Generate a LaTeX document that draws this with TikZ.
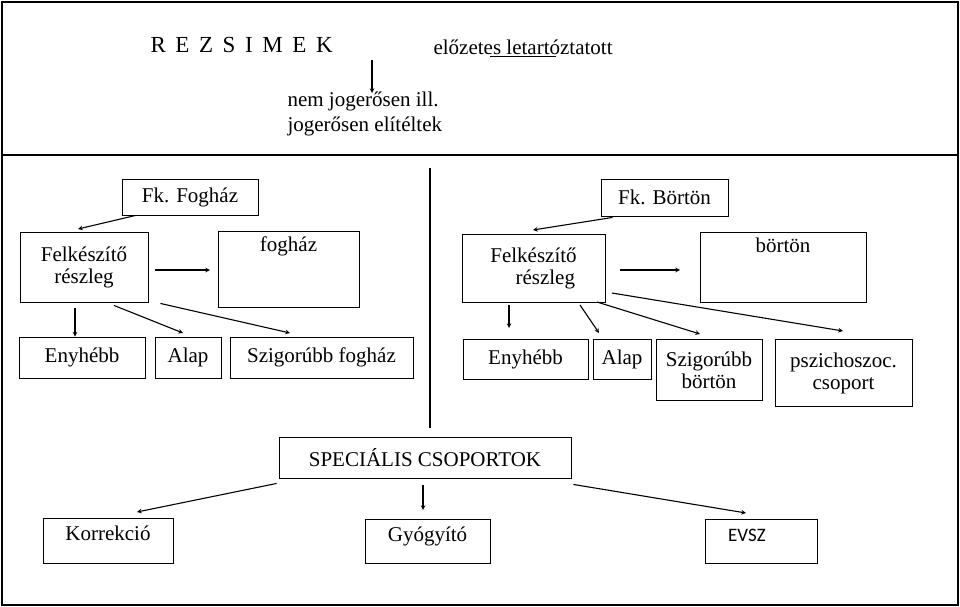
\documentclass[tikz,border=0pt]{standalone}
\usepackage{fontspec}
\setmainfont{Liberation Serif}
\newfontfamily\evszfont{Carlito}
\usetikzlibrary{arrows}

\begin{document}
\begin{tikzpicture}[x=1pt,y=-1pt,->,>=stealth,line width=1.1pt,font=\fontsize{21}{22}\selectfont,
      box/.style={draw,line width=0.9pt,-,inner sep=0pt,align=center},
      toplab/.style={anchor=north,inner sep=0pt,yshift=-6pt}]
      \useasboundingbox (0,0) rectangle (960,607);
      \draw[-,line width=2.2pt] (2,2) rectangle (958,605);
      \draw[-,line width=2.2pt] (2,155) -- (958,155);
      \draw[-,line width=2pt] (430,168) -- (430,428);

      % header
      \node[anchor=west,inner sep=0pt,font=\fontsize{23}{24}\selectfont] (rezs) at (150,45) {R\, E\, Z\, S\, I\, M\, E\, K};
      \node[anchor=west,inner sep=0pt] (elozetes) at (433,47) {előzetes letartóztatott};
      \draw[-,line width=0.8pt] (490,56) -- (556,56);
      \coordinate (ha) at (372,60);
      \node[anchor=north west,align=left,inner sep=0pt] (jog) at (287,91) {nem jogerősen ill.\\[3pt]jogerősen elítéltek};
      \draw (ha) -- (372,93);

      % fogház
      \node[box,minimum width=136,minimum height=36] (fkf) at (190,197) {Fk. Fogház};
      \node[box,minimum width=128,minimum height=70] (felf) at (84,267) {Felkészítő\\részleg};
      \node[box,minimum width=141,minimum height=76,label={[toplab]north:fogház}] (fogh) at (288.5,269) {};
      \node[box,minimum width=126,minimum height=41] (enyf) at (82,357.5) {Enyhébb};
      \node[box,minimum width=66,minimum height=41] (alapf) at (188,357.5) {Alap};
      \node[box,minimum width=183,minimum height=41] (szigf) at (321.5,357.5) {Szigorúbb fogház};

      \path
      (fkf.south west)+(14,0) edge (78,229)
      (felf.east)+(7,3) edge (210,270)
      (felf.south)+(-9,6) edge (enyf.north-|75,0)
      (felf.south)+(30,3) edge (183,333)
      (felf.south east)+(12,1) edge (290,333)
      ;

      % börtön
      \node[box,minimum width=127,minimum height=37] (fkb) at (664.5,197.5) {Fk. Börtön};
      \node[box,minimum width=143,minimum height=68,align=left] (felb) at (533.5,268) {Felkészítő\\\hspace*{1.2em}részleg};
      \node[box,minimum width=166,minimum height=70,label={[toplab]north:börtön}] (bort) at (783,267) {};
      \node[box,minimum width=125,minimum height=40] (enyb) at (525.5,359) {Enyhébb};
      \node[box,minimum width=58,minimum height=40] (alapb) at (622,359) {Alap};
      \node[box,minimum width=106,minimum height=61,anchor=north] (szigb) at (709,339) {Szigorúbb\\börtön};
      \node[box,minimum width=137,minimum height=67,anchor=north] (pszi) at (843.5,339) {pszichoszoc.\\csoport};

      \path
      (fkb.south)+(-52,1) edge (533,230)
      (felb.east)+(15,2) edge (680,270)
      (509,305) edge (509,328)
      (580,305) edge (599,333)
      (597,302) edge (700,334)
      (612,293) edge (843,331)
      ;

      % speciális csoportok
      \node[box,minimum width=292,minimum height=41] (spec) at (425,457.5) {SPECIÁLIS CSOPORTOK};
      \node[box,minimum width=130,minimum height=45,label={[toplab,yshift=-2pt]north:Korrekció}] (korr) at (108,540.5) {};
      \node[box,minimum width=125,minimum height=44,label={[toplab,yshift=-2pt]north:Gyógyító}] (gyogy) at (427.5,541) {};
      \node[box,minimum width=112,minimum height=44,label={[toplab,yshift=-4pt,xshift=-14pt,font=\evszfont\fontsize{19}{20}\selectfont]north:EVSZ}] (evsz) at (761,541) {};

      \path
      (spec.south west)+(-2,5) edge (137,512)
      (423,485) edge (423,510)
      (spec.south east)+(2,6) edge (746,513)
      ;
\end{tikzpicture}
\end{document}
